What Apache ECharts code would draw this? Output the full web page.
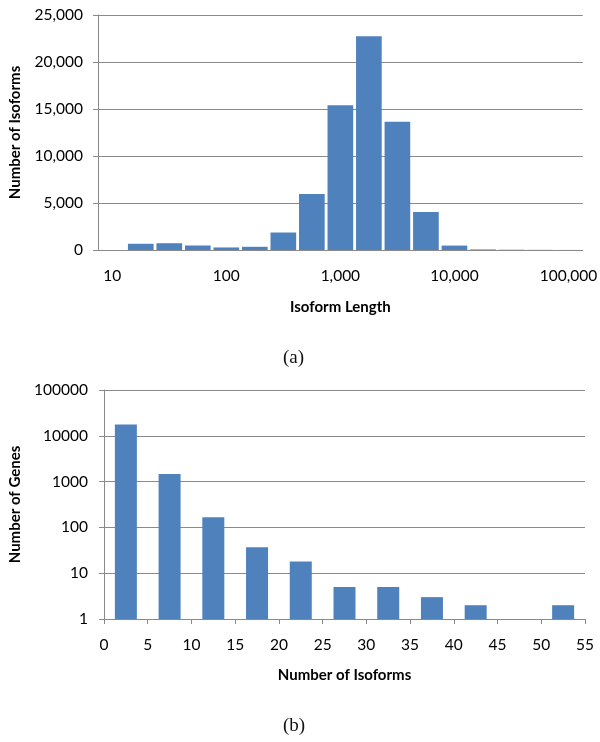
<!DOCTYPE html>
<html>
<head>
<meta charset="utf-8">
<script src="https://cdn.jsdelivr.net/npm/echarts@6/dist/echarts.min.js"></script>
<style>
html,body{margin:0;padding:0;background:#fff;}
#chart{width:600px;height:742px;}
</style>
</head>
<body>
<div id="chart"></div>
<script>
// (a) Isoform length histogram (log-spaced bins, 4 per decade)
const lengthBins = ['10','18','32','56','100','178','316','562','1,000','1,778','3,162','5,623','10,000','17,783','31,623','56,234','100,000'];
const isoformCounts = [0, 660, 720, 480, 270, 340, 1860, 5960, 15400, 22750, 13650, 4050, 470, 60, 30, 15, 5];
const countTicks = [0, 5000, 10000, 15000, 20000, 25000];

// (b) Number of isoforms per gene
const isoformNumbers = [2.5, 7.5, 12.5, 17.5, 22.5, 27.5, 32.5, 37.5, 42.5, 52.5];
const geneCounts = [17700, 1465, 167, 37, 18, 5, 5, 3, 2, 2];
const isoTicks = [0, 5, 10, 15, 20, 25, 30, 35, 40, 45, 50, 55];

const FONT = 'Lato';
const GRID = '#8a8a8a';
const BLUE = '#4f81bd';
const LBL = 15.5;
const NAME = 15;

const chart = echarts.init(document.getElementById('chart'), null, {renderer: 'canvas'});
chart.setOption({
  animation: false,
  backgroundColor: '#fff',
  grid: [
    {left: 92, right: 16, top: 15, height: 235, containLabel: false},
    {left: 98, right: 15, top: 390, height: 229, containLabel: false}
  ],
  xAxis: [
    {
      gridIndex: 0, type: 'category', data: lengthBins, boundaryGap: true,
      axisLine: {show: true, lineStyle: {color: GRID, width: 1}},
      axisTick: {show: false},
      axisLabel: {interval: 3, margin: 18, fontFamily: FONT, fontSize: LBL, color: '#000'},
      name: 'Isoform Length', nameLocation: 'middle', nameGap: 50,
      nameTextStyle: {fontFamily: FONT, fontSize: NAME, fontWeight: 'bold', color: '#000'}
    },
    {
      gridIndex: 1, type: 'value', min: isoTicks[0], max: isoTicks[isoTicks.length - 1], interval: 5,
      axisLine: {show: true, onZero: false, lineStyle: {color: GRID, width: 1}},
      axisTick: {show: true, length: 5, lineStyle: {color: GRID}},
      splitLine: {show: false},
      axisLabel: {margin: 18, fontFamily: FONT, fontSize: LBL, color: '#000'},
      name: 'Number of Isoforms', nameLocation: 'middle', nameGap: 49,
      nameTextStyle: {fontFamily: FONT, fontSize: NAME, fontWeight: 'bold', color: '#000'}
    }
  ],
  yAxis: [
    {
      gridIndex: 0, type: 'value', min: countTicks[0], max: countTicks[countTicks.length - 1], interval: 5000,
      axisLine: {show: true, lineStyle: {color: GRID, width: 1}},
      axisTick: {show: true, length: 5, lineStyle: {color: GRID}},
      splitLine: {show: true, lineStyle: {color: GRID, width: 1}},
      axisLabel: {margin: 15, fontFamily: FONT, fontSize: LBL, color: '#000',
        formatter: v => v.toString().replace(/\B(?=(\d{3})+(?!\d))/g, ',')},
      name: 'Number of Isoforms', nameLocation: 'middle', nameGap: 75,
      nameTextStyle: {fontFamily: FONT, fontSize: NAME, fontWeight: 'bold', color: '#000'}
    },
    {
      gridIndex: 1, type: 'log', logBase: 10, min: 1, max: 100000,
      axisLine: {show: true, lineStyle: {color: GRID, width: 1}},
      axisTick: {show: true, length: 5, lineStyle: {color: GRID}},
      splitLine: {show: true, lineStyle: {color: GRID, width: 1}},
      axisLabel: {margin: 16, fontFamily: FONT, fontSize: LBL, color: '#000',
        formatter: v => String(Math.round(v))},
      name: 'Number of Genes', nameLocation: 'middle', nameGap: 81,
      nameTextStyle: {fontFamily: FONT, fontSize: NAME, fontWeight: 'bold', color: '#000'}
    }
  ],
  series: [
    {
      type: 'bar', xAxisIndex: 0, yAxisIndex: 0, data: isoformCounts,
      barCategoryGap: '10%',
      itemStyle: {color: BLUE}
    },
    {
      type: 'bar', xAxisIndex: 1, yAxisIndex: 1,
      data: isoformNumbers.map((x, i) => [x, geneCounts[i]]),
      barWidth: 22,
      itemStyle: {color: BLUE}
    }
  ],
  graphic: [
    {type: 'text', left: 283, top: 349, style: {text: '(a)', font: '19px "Liberation Serif"', fill: '#111'}},
    {type: 'text', left: 283, top: 717, style: {text: '(b)', font: '19px "Liberation Serif"', fill: '#111'}}
  ]
});
</script>
</body>
</html>
